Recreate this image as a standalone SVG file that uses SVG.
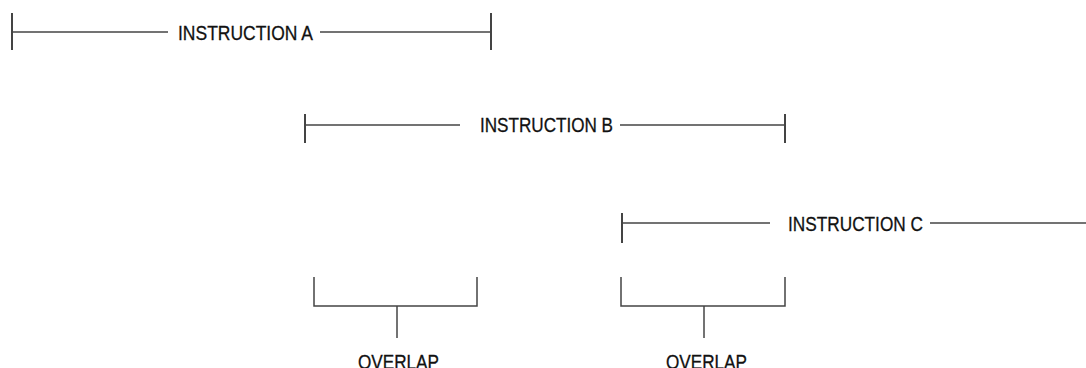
<svg xmlns="http://www.w3.org/2000/svg" width="1086" height="368" viewBox="0 0 1086 368">
<style>
.l{stroke:#444;stroke-width:1.5;fill:none}
.v{stroke:#444;stroke-width:2;fill:none}
.t{font-family:"Liberation Sans",Arial,sans-serif;font-size:21px;fill:#111;stroke:#111;stroke-width:0.3;text-anchor:start}
</style>
<rect width="1086" height="368" fill="#fff"/>
<g id="instrA">
<line class="v" x1="12" y1="13" x2="12" y2="50"/>
<line class="v" x1="491" y1="13" x2="491" y2="50"/>
<line class="l" x1="12" y1="32" x2="168" y2="32"/>
<line class="l" x1="320" y1="32" x2="491" y2="32"/>
<text class="t" x="178" y="40" textLength="135" lengthAdjust="spacingAndGlyphs">INSTRUCTION A</text>
</g>
<g id="instrB">
<line class="v" x1="305" y1="114" x2="305" y2="143"/>
<line class="v" x1="785" y1="114" x2="785" y2="143"/>
<line class="l" x1="305" y1="125" x2="460" y2="125"/>
<line class="l" x1="620" y1="125" x2="785" y2="125"/>
<text class="t" x="480" y="132" textLength="133" lengthAdjust="spacingAndGlyphs">INSTRUCTION B</text>
</g>
<g id="instrC">
<line class="v" x1="622" y1="213" x2="622" y2="243"/>
<line class="l" x1="622" y1="223" x2="770" y2="223"/>
<line class="l" x1="930" y1="223" x2="1086" y2="223"/>
<text class="t" x="788" y="231" textLength="135" lengthAdjust="spacingAndGlyphs">INSTRUCTION C</text>
</g>
<g id="overlap1">
<path class="l" d="M314,277 V306 H477 V277"/>
<line class="l" x1="397" y1="306" x2="397" y2="338"/>
<text class="t" x="358" y="369" textLength="81" lengthAdjust="spacingAndGlyphs">OVERLAP</text>
</g>
<g id="overlap2">
<path class="l" d="M621,277 V306 H785 V277"/>
<line class="l" x1="704" y1="306" x2="704" y2="338"/>
<text class="t" x="666" y="369" textLength="81" lengthAdjust="spacingAndGlyphs">OVERLAP</text>
</g>
</svg>
